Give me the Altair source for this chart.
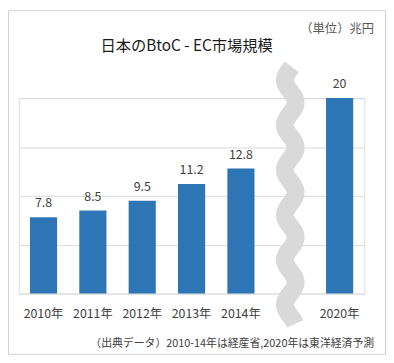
import altair as alt
import pandas as pd
import numpy as np

years = ["2010年", "2011年", "2012年", "2013年", "2014年", " ", "2020年"]
values = [7.8, 8.5, 9.5, 11.2, 12.8, None, 20]
labels = ["7.8", "8.5", "9.5", "11.2", "12.8", "", "20"]

title_text = "日本のBtoC - EC市場規模"
unit_text = "（単位）兆円"
source_text = "（出典データ）2010-14年は経産省,2020年は東洋経済予測"

FONT = "Noto Sans CJK JP"
BLUE = "#2e75b6"
GREY_TXT = "#404040"

df = pd.DataFrame({"year": years, "value": values, "label": labels})
bars_df = df.dropna()

W, H = 350, 198

xscale = alt.Scale(domain=years, paddingInner=0.45, paddingOuter=0.225)
yscale = alt.Scale(domain=[0, 20], nice=False)
xaxis = alt.Axis(title=None, domain=False, ticks=False, labelFontSize=12.5, labelColor=GREY_TXT,
                 labelFont=FONT, labelPadding=14, labelAngle=0)
yaxis = alt.Axis(title=None, labels=False, ticks=False, domain=False, values=[0, 5, 10, 15, 20],
                 grid=True, gridColor="#d9d9d9", gridWidth=1)

bars = alt.Chart(bars_df).mark_bar(color=BLUE).encode(
    x=alt.X("year:O", sort=years, scale=xscale, axis=xaxis),
    y=alt.Y("value:Q", scale=yscale, axis=yaxis),
)
text = alt.Chart(bars_df).mark_text(baseline="bottom", dy=-7, fontSize=12.5, color=GREY_TXT, font=FONT).encode(
    x=alt.X("year:O", sort=years, scale=xscale, axis=xaxis),
    y=alt.Y("value:Q", scale=yscale, axis=yaxis),
    text="label:N",
)
data_layer = alt.layer(bars, text)

# decorative axis-break squiggle (shape only, not data)
t = np.linspace(0, 1, 120)
sy = 23.2 - t * 26.3
sx = 5.5 + 0.11 * np.sin((sy) / 4.6 * 2 * np.pi)
sq_df = pd.DataFrame({"sx": sx, "sy": sy, "o": np.arange(len(t))})
squiggle = alt.Chart(sq_df).mark_line(color="#d9d9d9", strokeWidth=18, strokeCap="butt", clip=False).encode(
    x=alt.X("sx:Q", scale=alt.Scale(domain=[0, 7], nice=False, zero=False), axis=None),
    y=alt.Y("sy:Q", scale=yscale, axis=yaxis),
    order="o:Q",
)

one = pd.DataFrame({"a": [0]})
title = alt.Chart(one).mark_text(fontSize=15.5, color="#1a1a1a", font=FONT, align="center", baseline="middle").encode(
    x=alt.value(170), y=alt.value(-53), text=alt.value(title_text))
unit = alt.Chart(one).mark_text(fontSize=12.5, color="#595959", font=FONT, align="right", baseline="middle").encode(
    x=alt.value(360), y=alt.value(-70), text=alt.value(unit_text))
source = alt.Chart(one).mark_text(fontSize=11, color="#404040", font=FONT, align="right", baseline="middle").encode(
    x=alt.value(360), y=alt.value(249), text=alt.value(source_text))
border = alt.Chart(one).mark_rect(fill=None, stroke="#d0d0d0", strokeWidth=1).encode(
    x=alt.value(-10.5), x2=alt.value(371.5), y=alt.value(-88.5), y2=alt.value(259.5))

chart = alt.layer(data_layer, squiggle, title, unit, source, border).resolve_scale(x="independent").properties(
    width=W, height=H,
    autosize=alt.AutoSizeParams(type="none"),
    padding={"left": 11, "top": 89, "right": 22, "bottom": 62},
).configure_view(stroke=None).configure(background="white")

chart.save("out.html", embed_options={"renderer": "svg", "actions": False})
